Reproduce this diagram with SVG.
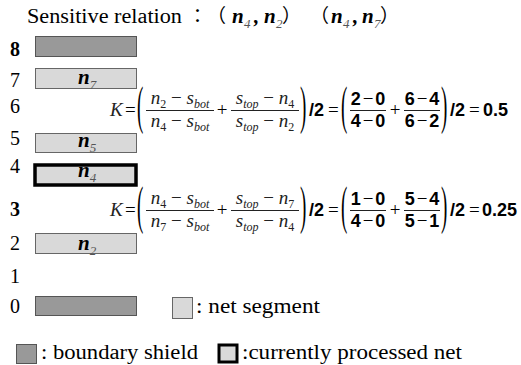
<svg xmlns="http://www.w3.org/2000/svg" width="521" height="365" viewBox="0 0 521 365">
<style>
.t{font-family:"Liberation Serif","Noto Sans CJK JP",serif;font-size:20px;fill:#000}
.cjk{font-family:"Noto Sans CJK JP","Liberation Serif",sans-serif;font-size:19px;font-weight:normal;font-style:normal;fill:#000}
.dig{font-family:"Liberation Serif",serif;font-size:20px;fill:#000}
.nb{font-family:"Liberation Serif",serif;font-size:21px;font-weight:bold;font-style:italic;fill:#000}
.sb{font-family:"Liberation Serif",serif;font-size:13px;font-weight:normal;font-style:italic;fill:#555}
.v{font-family:"Liberation Serif",serif;font-size:19px;font-style:italic;fill:#222}
.op{font-family:"Liberation Serif",serif;font-size:19px;font-weight:normal;fill:#000}
.num{font-family:"Liberation Sans",Arial,sans-serif;font-size:18px;font-weight:bold;fill:#000}
.sub{font-size:12px}
.shield{fill:#999;stroke:#555;stroke-width:1}
.seg{fill:#d9d9d9;stroke:#666;stroke-width:1}
.cur{fill:#d9d9d9;stroke:#000;stroke-width:3.5}
.bar{stroke:#222;stroke-width:1}
</style>

<!-- title -->
<g id="title">
<text class="t" x="27" y="23" textLength="155" lengthAdjust="spacingAndGlyphs">Sensitive relation</text>
<text class="nb" y="23"><tspan class="cjk" x="188">：</tspan><tspan class="cjk" x="207">（</tspan><tspan x="232">n</tspan><tspan class="sb" x="244" dy="5">4</tspan><tspan x="254" dy="-5">,</tspan><tspan x="264">n</tspan><tspan class="sb" x="276" dy="5">2</tspan><tspan class="cjk" x="282" dy="-5">）</tspan><tspan class="cjk" x="310">（</tspan><tspan x="331">n</tspan><tspan class="sb" x="343" dy="5">4</tspan><tspan x="353" dy="-5">,</tspan><tspan x="362">n</tspan><tspan class="sb" x="374" dy="5">7</tspan><tspan class="cjk" x="380" dy="-5">）</tspan></text>
</g>

<!-- track numbers -->
<g id="tracks">
<text class="dig" x="10" y="56" font-weight="bold">8</text>
<text class="dig" x="10" y="87">7</text>
<text class="dig" x="10" y="113">6</text>
<text class="dig" x="10" y="145">5</text>
<text class="dig" x="10" y="173">4</text>
<text class="dig" x="10" y="216" font-weight="bold">3</text>
<text class="dig" x="10" y="250">2</text>
<text class="dig" x="10" y="283">1</text>
<text class="dig" x="10" y="313">0</text>
</g>

<!-- nodes -->
<g id="shield-top"><rect class="shield" x="35.5" y="36.5" width="101" height="20"/></g>
<g id="n7"><rect class="seg" x="35.5" y="68.5" width="101" height="20"/>
<text class="nb" x="78" y="84">n<tspan class="sb" dy="5">7</tspan></text></g>
<g id="n5"><rect class="seg" x="35.5" y="133.5" width="101" height="19"/>
<text class="nb" x="78" y="147">n<tspan class="sb" dy="5">5</tspan></text></g>
<g id="n4"><rect class="cur" x="35" y="165" width="101" height="20"/>
<text class="nb" x="78" y="177">n<tspan class="sb" dy="5">4</tspan></text></g>
<g id="n2"><rect class="seg" x="35.5" y="233.5" width="101" height="20"/>
<text class="nb" x="78" y="250">n<tspan class="sb" dy="5">2</tspan></text></g>
<g id="shield-bottom"><rect class="shield" x="35.5" y="296.5" width="101" height="19"/></g>

<g id="connectors"></g>

<!-- formula 1 -->
<g id="formula1" transform="translate(0,110)">
<text class="v" x="110" y="6">K</text>
<text class="op" x="125" y="6">=</text>
<text class="op" transform="translate(137,13.3) scale(1,2.8)">(</text>
<text class="v" x="180" y="-6" text-anchor="middle">n<tspan class="sub" dy="4" font-style="normal">2</tspan><tspan dy="-4" font-style="normal"> − </tspan>s<tspan class="sub" dy="4">bot</tspan></text>
<line class="bar" x1="146" y1="0.5" x2="214" y2="0.5"/>
<text class="v" x="180" y="17" text-anchor="middle">n<tspan class="sub" dy="4" font-style="normal">4</tspan><tspan dy="-4" font-style="normal"> − </tspan>s<tspan class="sub" dy="4">bot</tspan></text>
<text class="op" x="222" y="6" text-anchor="middle">+</text>
<text class="v" x="265" y="-6" text-anchor="middle">s<tspan class="sub" dy="4">top</tspan><tspan dy="-4" font-style="normal"> − </tspan>n<tspan class="sub" dy="4" font-style="normal">4</tspan></text>
<line class="bar" x1="231" y1="0.5" x2="299" y2="0.5"/>
<text class="v" x="265" y="17" text-anchor="middle">s<tspan class="sub" dy="4">top</tspan><tspan dy="-4" font-style="normal"> − </tspan>n<tspan class="sub" dy="4" font-style="normal">2</tspan></text>
<text class="op" transform="translate(300,13.3) scale(1,2.8)">)</text>
<text class="num" x="309" y="6">/2</text>
<text class="op" x="328" y="6">=</text>
<text class="op" transform="translate(341,13.3) scale(1,2.8)">(</text>
<text class="num" x="368" y="-5" text-anchor="middle">2<tspan class="op" dx="2">−</tspan><tspan dx="2">0</tspan></text>
<line class="bar" x1="350" y1="0.5" x2="386" y2="0.5"/>
<text class="num" x="368" y="17" text-anchor="middle">4<tspan class="op" dx="2">−</tspan><tspan dx="2">0</tspan></text>
<text class="op" x="395" y="6" text-anchor="middle">+</text>
<text class="num" x="422" y="-5" text-anchor="middle">6<tspan class="op" dx="2">−</tspan><tspan dx="2">4</tspan></text>
<line class="bar" x1="404" y1="0.5" x2="440" y2="0.5"/>
<text class="num" x="422" y="17" text-anchor="middle">6<tspan class="op" dx="2">−</tspan><tspan dx="2">2</tspan></text>
<text class="op" transform="translate(441,13.3) scale(1,2.8)">)</text>
<text class="num" x="450" y="6">/2</text>
<text class="op" x="469" y="6">=</text>
<text class="num" x="483" y="6">0.5</text>
</g>

<!-- formula 2 -->
<g id="formula2" transform="translate(0,210)">
<text class="v" x="110" y="6">K</text>
<text class="op" x="125" y="6">=</text>
<text class="op" transform="translate(137,13.3) scale(1,2.8)">(</text>
<text class="v" x="180" y="-6" text-anchor="middle">n<tspan class="sub" dy="4" font-style="normal">4</tspan><tspan dy="-4" font-style="normal"> − </tspan>s<tspan class="sub" dy="4">bot</tspan></text>
<line class="bar" x1="146" y1="0.5" x2="214" y2="0.5"/>
<text class="v" x="180" y="17" text-anchor="middle">n<tspan class="sub" dy="4" font-style="normal">7</tspan><tspan dy="-4" font-style="normal"> − </tspan>s<tspan class="sub" dy="4">bot</tspan></text>
<text class="op" x="222" y="6" text-anchor="middle">+</text>
<text class="v" x="265" y="-6" text-anchor="middle">s<tspan class="sub" dy="4">top</tspan><tspan dy="-4" font-style="normal"> − </tspan>n<tspan class="sub" dy="4" font-style="normal">7</tspan></text>
<line class="bar" x1="231" y1="0.5" x2="299" y2="0.5"/>
<text class="v" x="265" y="17" text-anchor="middle">s<tspan class="sub" dy="4">top</tspan><tspan dy="-4" font-style="normal"> − </tspan>n<tspan class="sub" dy="4" font-style="normal">4</tspan></text>
<text class="op" transform="translate(300,13.3) scale(1,2.8)">)</text>
<text class="num" x="309" y="6">/2</text>
<text class="op" x="328" y="6">=</text>
<text class="op" transform="translate(341,13.3) scale(1,2.8)">(</text>
<text class="num" x="368" y="-5" text-anchor="middle">1<tspan class="op" dx="2">−</tspan><tspan dx="2">0</tspan></text>
<line class="bar" x1="350" y1="0.5" x2="386" y2="0.5"/>
<text class="num" x="368" y="17" text-anchor="middle">4<tspan class="op" dx="2">−</tspan><tspan dx="2">0</tspan></text>
<text class="op" x="395" y="6" text-anchor="middle">+</text>
<text class="num" x="422" y="-5" text-anchor="middle">5<tspan class="op" dx="2">−</tspan><tspan dx="2">4</tspan></text>
<line class="bar" x1="404" y1="0.5" x2="440" y2="0.5"/>
<text class="num" x="422" y="17" text-anchor="middle">5<tspan class="op" dx="2">−</tspan><tspan dx="2">1</tspan></text>
<text class="op" transform="translate(441,13.3) scale(1,2.8)">)</text>
<text class="num" x="450" y="6">/2</text>
<text class="op" x="469" y="6">=</text>
<text class="num" x="482" y="6">0.25</text>
</g>

<!-- legend -->
<g id="legend-segment"><rect class="seg" x="172.5" y="297.5" width="20" height="21"/>
<text class="t" x="196" y="313" textLength="124" lengthAdjust="spacingAndGlyphs">: net segment</text></g>
<g id="legend-shield"><rect class="shield" x="16.5" y="344.5" width="20" height="19"/>
<text class="t" x="41" y="359" textLength="157" lengthAdjust="spacingAndGlyphs">: boundary shield</text></g>
<g id="legend-current"><rect x="219" y="345" width="18" height="17" fill="#d9d9d9" stroke="#000" stroke-width="3"/>
<text class="t" x="242" y="359" textLength="220" lengthAdjust="spacingAndGlyphs">:currently processed net</text></g>
</svg>
